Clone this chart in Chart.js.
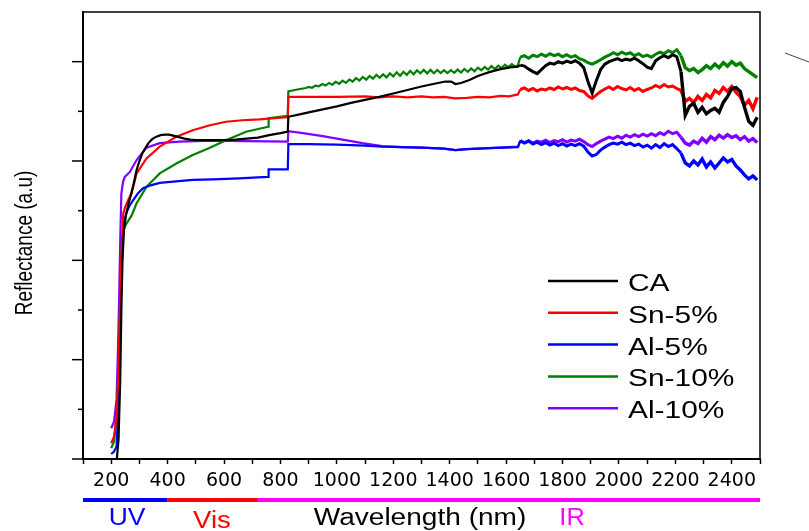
<!DOCTYPE html>
<html>
<head>
<meta charset="utf-8">
<script src="https://cdn.jsdelivr.net/npm/chart.js@4.4.1/dist/chart.umd.min.js"></script>
<style>
  html, body { margin: 0; padding: 0; background: #fff; }
  #wrap { width: 809px; height: 531px; }
</style>
</head>
<body>
<div id="wrap"><canvas id="myChart" width="809" height="531"></canvas></div>
<script>
// wavelength (nm) / reflectance (a.u.)
const caWl = [220, 226, 232, 236, 240, 245, 250, 256, 262, 270, 280, 290, 300, 310, 320, 332, 345, 360, 375, 390,
  405, 420, 440, 460, 480, 500, 530, 560, 600, 640, 680, 720, 760, 800, 826, 828, 860, 900, 950, 1000,
  1050, 1100, 1150, 1200, 1250, 1300, 1350, 1385, 1405, 1420, 1440, 1470, 1500, 1540, 1580, 1620, 1642];
const caR = [0.0, 0.4, 1.6, 3.0, 4.0, 4.6, 4.85, 5.0, 5.15, 5.32, 5.55, 5.82, 6.0, 6.15, 6.25, 6.36, 6.44, 6.49, 6.52, 6.53,
  6.53, 6.51, 6.48, 6.45, 6.43, 6.42, 6.42, 6.42, 6.42, 6.43, 6.45, 6.47, 6.52, 6.56, 6.59, 6.89, 6.93, 6.98, 7.04, 7.10,
  7.17, 7.23, 7.29, 7.36, 7.43, 7.50, 7.56, 7.60, 7.60, 7.55, 7.57, 7.63, 7.71, 7.79, 7.85, 7.89, 7.90];

const sn5Wl = [200, 210, 218, 225, 230, 235, 240, 243, 250, 260, 272, 290, 325, 372, 431, 489, 550, 607, 665, 725,
  790, 826, 828, 900, 1000, 1100, 1150, 1200, 1250, 1300, 1340, 1380, 1420, 1460, 1500, 1540, 1580, 1610, 1642];
const sn5R = [0.32, 0.45, 0.8, 1.6, 2.8, 3.9, 4.6, 4.95, 5.08, 5.21, 5.35, 5.75, 6.05, 6.29, 6.49, 6.62, 6.72, 6.79, 6.82, 6.84,
  6.87, 6.88, 7.29, 7.29, 7.29, 7.30, 7.28, 7.30, 7.28, 7.30, 7.28, 7.29, 7.26, 7.27, 7.29, 7.28, 7.31, 7.30, 7.34];

const al5Wl = [200, 210, 219, 225, 231, 237, 243, 253, 265, 278, 295, 313, 340, 372, 430, 489, 560, 654, 720, 756,
  758, 800, 826, 828, 900, 1000, 1100, 1160, 1230, 1300, 1380, 1420, 1460, 1540, 1642];
const al5R = [0.10, 0.15, 0.25, 1.0, 2.53, 3.9, 4.55, 4.95, 5.1, 5.21, 5.35, 5.45, 5.51, 5.56, 5.59, 5.62, 5.63, 5.65, 5.67, 5.68,
  5.83, 5.83, 5.83, 6.34, 6.34, 6.33, 6.31, 6.29, 6.28, 6.27, 6.25, 6.22, 6.24, 6.26, 6.28];

const sn10Wl = [200, 210, 218, 226, 233, 238, 243, 254, 262, 272, 290, 325, 372, 431, 489, 548, 607, 678, 756, 758,
  826, 828, 860, 890,
  900, 912, 924, 936, 948, 960, 972, 984, 996, 1008, 1020, 1032, 1044, 1056, 1068, 1080, 1092, 1104, 1116, 1128,
  1140, 1152, 1164, 1176, 1188, 1200, 1212, 1224, 1236, 1248, 1260, 1272, 1284, 1296, 1308, 1320, 1332, 1344, 1356, 1368,
  1380, 1392, 1404, 1416, 1428, 1440, 1452, 1464, 1476, 1488, 1500, 1512, 1524, 1536, 1548, 1560, 1572, 1584, 1596, 1608,
  1620, 1632, 1642];
const sn10R = [0.22, 0.35, 0.8, 1.8, 3.4, 4.3, 4.61, 4.74, 4.81, 4.90, 5.15, 5.48, 5.75, 5.95, 6.12, 6.26, 6.42, 6.59, 6.69, 6.86,
  6.91, 7.40, 7.44, 7.47,
  7.49, 7.475, 7.518, 7.502, 7.55, 7.52, 7.572, 7.538, 7.595, 7.555, 7.618, 7.572, 7.64, 7.60, 7.67, 7.62, 7.692, 7.638, 7.713, 7.657,
  7.735, 7.675, 7.745, 7.685, 7.765, 7.705, 7.785, 7.715, 7.795, 7.735, 7.815, 7.745, 7.825, 7.765, 7.835, 7.765, 7.835, 7.768, 7.832, 7.77,
  7.83, 7.772, 7.828, 7.775, 7.84, 7.78, 7.852, 7.797, 7.862, 7.808, 7.88, 7.828, 7.892, 7.84, 7.91, 7.85, 7.92, 7.87, 7.94, 7.885,
  7.95, 7.90, 7.93];

const al10Wl = [200, 210, 219, 224, 228, 232, 236, 242, 248, 266, 290, 325, 372, 442, 560, 680, 826, 828, 880, 950,
  1020, 1090, 1160, 1230, 1300, 1380, 1420, 1460, 1540, 1642];
const al10R = [0.62, 0.75, 1.2, 2.2, 3.2, 4.4, 5.35, 5.58, 5.68, 5.78, 6.02, 6.27, 6.36, 6.39, 6.41, 6.40, 6.39, 6.60, 6.56, 6.50,
  6.43, 6.36, 6.30, 6.28, 6.27, 6.25, 6.22, 6.24, 6.26, 6.29];

// noisy NIR part (after detector change), shared wavelength grid
const irWl = [1650, 1665, 1680, 1695, 1710, 1725, 1740, 1755, 1770, 1785, 1800, 1815, 1830, 1845, 1860, 1875, 1890, 1905, 1920, 1935,
  1950, 1965, 1980, 1995, 2010, 2025, 2040, 2055, 2070, 2085, 2100, 2115, 2130, 2145, 2160, 2175, 2190, 2205, 2220, 2235,
  2250, 2265, 2280, 2295, 2310, 2325, 2340, 2355, 2370, 2385, 2400, 2415, 2430, 2445, 2460, 2475, 2490];
const caIr = [7.93, 7.91, 7.85, 7.80, 7.76, 7.84, 7.92, 7.97, 7.95, 8.00, 7.97, 8.01, 7.98, 8.02, 7.97, 7.88, 7.60, 7.37, 7.62, 7.84,
  7.95, 8.00, 8.03, 8.06, 8.02, 8.05, 8.03, 8.07, 8.02, 7.96, 7.89, 7.86, 8.02, 8.08, 8.12, 8.08, 8.14, 8.10, 7.80, 6.92,
  7.10, 7.16, 6.98, 7.08, 6.95, 7.02, 7.06, 6.98, 7.18, 7.30, 7.46, 7.48, 7.40, 7.08, 6.80, 6.72, 6.88];
const sn5Ir = [7.44, 7.47, 7.42, 7.46, 7.41, 7.45, 7.43, 7.47, 7.44, 7.49, 7.45, 7.48, 7.44, 7.47, 7.42, 7.40, 7.31, 7.26, 7.33, 7.40,
  7.45, 7.49, 7.44, 7.50, 7.46, 7.43, 7.48, 7.42, 7.46, 7.40, 7.44, 7.47, 7.52, 7.48, 7.54, 7.49, 7.51, 7.46, 7.42, 7.20,
  7.26, 7.18, 7.30, 7.22, 7.34, 7.27, 7.42, 7.36, 7.48, 7.40, 7.50, 7.38, 7.30, 7.12, 7.22, 7.05, 7.28];
const al5Ir = [6.41, 6.36, 6.40, 6.34, 6.38, 6.33, 6.37, 6.32, 6.36, 6.31, 6.35, 6.30, 6.34, 6.31, 6.35, 6.30, 6.18, 6.10, 6.13, 6.22,
  6.28, 6.33, 6.36, 6.34, 6.38, 6.33, 6.36, 6.31, 6.34, 6.28, 6.32, 6.26, 6.33, 6.27, 6.35, 6.29, 6.33, 6.25, 6.16, 5.96,
  5.90, 6.00, 5.92, 6.04, 5.88, 5.98, 5.86, 5.96, 6.06, 5.98, 6.03, 5.90, 5.82, 5.72, 5.64, 5.70, 5.62];
const sn10Ir = [8.09, 8.12, 8.07, 8.13, 8.10, 8.15, 8.11, 8.16, 8.12, 8.15, 8.10, 8.14, 8.09, 8.12, 8.06, 8.03, 7.98, 7.95, 7.99, 8.04,
  8.09, 8.13, 8.18, 8.14, 8.19, 8.15, 8.18, 8.12, 8.16, 8.10, 8.13, 8.09, 8.15, 8.19, 8.16, 8.22, 8.18, 8.24, 8.12, 7.88,
  7.82, 7.86, 7.78, 7.84, 7.92, 7.86, 7.95, 7.88, 7.98, 7.91, 8.00, 7.93, 7.97, 7.86, 7.80, 7.74, 7.68];
const al10Ir = [6.40, 6.37, 6.41, 6.36, 6.40, 6.38, 6.42, 6.37, 6.41, 6.39, 6.43, 6.38, 6.42, 6.40, 6.44, 6.39, 6.33, 6.29, 6.35, 6.40,
  6.44, 6.48, 6.45, 6.50, 6.46, 6.52, 6.48, 6.53, 6.49, 6.54, 6.50, 6.55, 6.51, 6.57, 6.53, 6.60, 6.55, 6.58, 6.48, 6.36,
  6.32, 6.40, 6.35, 6.46, 6.38, 6.49, 6.43, 6.52, 6.46, 6.53, 6.47, 6.51, 6.43, 6.49, 6.40, 6.45, 6.37];

const seriesNames = ["CA", "Sn-5%", "Al-5%", "Sn-10%", "Al-10%"];
const seriesColors = ["#000000", "#ff0000", "#0000ff", "#008000", "#8000ff"];

// spectral bands under the axis: UV | Vis | IR
const bandEdges = [100, 400, 720, 2500];
const bandNames = ["UV", "Vis", "IR"];
const bandColors = ["#0000ff", "#ff0000", "#ff00ff"];

const FONT = "'Liberation Sans', Arial, sans-serif";

const toPoints = (wl, r, ir) => wl.concat(irWl).map((x, i) => ({x: x, y: r.concat(ir)[i]}));

const allSeries = [
  toPoints(caWl, caR, caIr),
  toPoints(sn5Wl, sn5R, sn5Ir),
  toPoints(al5Wl, al5R, al5Ir),
  toPoints(sn10Wl, sn10R, sn10Ir),
  toPoints(al10Wl, al10R, al10Ir),
];

const stretchText = (ctx, text, x, y, sx, align) => {
  ctx.save();
  ctx.translate(x, y);
  ctx.scale(sx, 1);
  ctx.textAlign = align;
  ctx.fillText(text, 0, 0);
  ctx.restore();
};

const decorations = {
  id: "decorations",
  afterDraw(chart) {
    const ctx = chart.ctx;
    const area = chart.chartArea;
    const xs = chart.scales.x;
    const ys = chart.scales.y;
    ctx.save();

    // frame top + right
    ctx.strokeStyle = "#000";
    ctx.lineWidth = 1.5;
    ctx.beginPath();
    ctx.moveTo(area.left, area.top);
    ctx.lineTo(area.right, area.top);
    ctx.lineTo(area.right, area.bottom);
    ctx.stroke();

    // y ticks, long on even values
    ctx.lineWidth = 1.5;
    for (let v = 0; v < 9; v++) {
      const py = ys.getPixelForValue(v);
      const len = v % 2 === 0 ? 11 : 5;
      ctx.beginPath();
      ctx.moveTo(area.left - len, py);
      ctx.lineTo(area.left, py);
      ctx.stroke();
    }

    // y title
    ctx.fillStyle = "#000";
    ctx.font = "19px " + FONT;
    ctx.save();
    ctx.translate(26, 243);
    ctx.rotate(-Math.PI / 2);
    ctx.scale(1, 1.22);
    ctx.textAlign = "center";
    ctx.textBaseline = "middle";
    ctx.fillText("Reflectance (a.u)", 0, 0);
    ctx.restore();

    // legend inside plot
    ctx.font = "23px " + FONT;
    ctx.textBaseline = "alphabetic";
    chart.data.datasets.forEach((ds, i) => {
      const ly = area.top + 269 + i * 31.8;
      ctx.strokeStyle = ds.borderColor;
      ctx.lineWidth = 2.5;
      ctx.beginPath();
      ctx.moveTo(area.right - 212, ly);
      ctx.lineTo(area.right - 142, ly);
      ctx.stroke();
      ctx.fillStyle = "#000";
      stretchText(ctx, ds.label, area.right - 132, ly + 10, 1.3, "left");
    });

    // band bar + band names
    const barY = area.bottom + 41;
    for (let b = 0; b < bandNames.length; b++) {
      const x0 = xs.getPixelForValue(bandEdges[b]);
      const x1 = xs.getPixelForValue(bandEdges[b + 1]);
      ctx.fillStyle = bandColors[b];
      ctx.fillRect(x0, barY - 2, x1 - x0, 4);
    }
    ctx.font = "23px " + FONT;
    ctx.fillStyle = bandColors[0];
    stretchText(ctx, bandNames[0], 127, 525, 1.15, "center");
    ctx.fillStyle = bandColors[1];
    stretchText(ctx, bandNames[1], 212, 528, 1.2, "center");
    ctx.fillStyle = bandColors[2];
    stretchText(ctx, bandNames[2], 572, 525, 1.1, "center");
    ctx.fillStyle = "#000";
    stretchText(ctx, "Wavelength (nm)", 420, 525, 1.22, "center");

    // stray stroke at the top right of the original figure
    ctx.strokeStyle = "#444";
    ctx.lineWidth = 1;
    ctx.beginPath();
    ctx.moveTo(785, 53);
    ctx.lineTo(809, 62);
    ctx.stroke();

    ctx.restore();
  },
};

const ctx = document.getElementById("myChart").getContext("2d");
const myChart = new Chart(ctx, {
  type: "line",
  data: {
    datasets: allSeries.map((pts, i) => ({
      label: seriesNames[i],
      data: pts,
      borderColor: seriesColors[i],
      borderWidth: 2.2,
      pointRadius: 0,
      tension: 0,
      fill: false,
      segment: {
        // NIR detector range is noisier, drawn a bit heavier
        borderWidth: (c) => (c.p0.parsed.x >= 2220 ? 3.4 : c.p0.parsed.x >= 1645 ? 3 : 2.2),
      },
    })),
  },
  options: {
    responsive: false,
    animation: false,
    devicePixelRatio: 1,
    layout: {
      padding: {left: 0, top: 12, right: 49, bottom: 0},
    },
    plugins: {
      legend: {display: false},
      tooltip: {enabled: false},
    },
    scales: {
      x: {
        type: "linear",
        min: 100,
        max: 2500,
        afterFit: (scale) => {
          scale.height = 72;
        },
        ticks: {
          stepSize: 100,
          autoSkip: false,
          maxRotation: 0,
          padding: 6,
          color: "#000",
          font: {family: "'DejaVu Sans', sans-serif", size: 19},
          callback: (v) => (v % 200 === 0 && v >= 200 && v <= 2400 ? String(v) : ""),
        },
        grid: {
          drawOnChartArea: false,
          tickLength: 5,
          tickColor: "#000",
          tickWidth: 1.5,
        },
        border: {color: "#000", width: 2},
      },
      y: {
        min: 0,
        max: 9,
        afterFit: (scale) => {
          scale.width = 83;
        },
        ticks: {display: false, stepSize: 1},
        grid: {drawOnChartArea: false, drawTicks: false},
        border: {color: "#000", width: 2},
      },
    },
  },
  plugins: [decorations],
});
</script>
</body>
</html>
